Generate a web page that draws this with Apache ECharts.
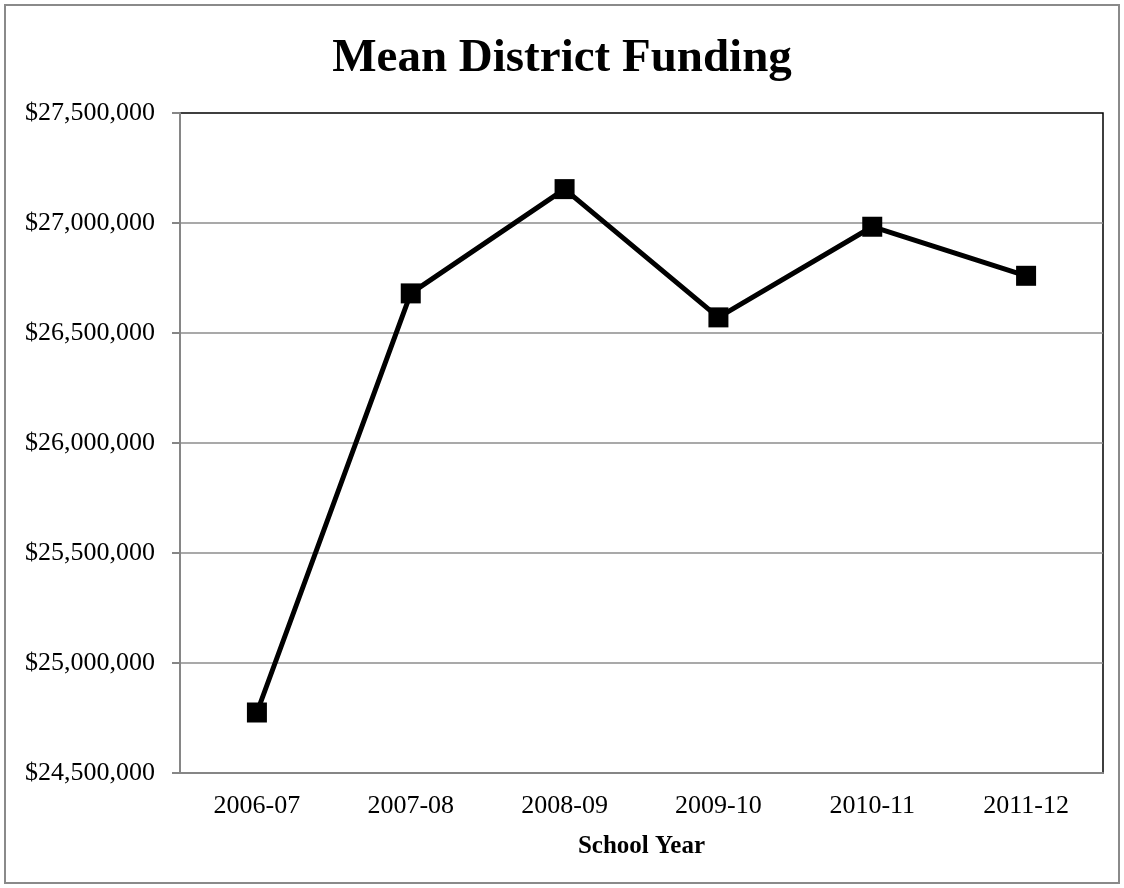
<!DOCTYPE html>
<html><head><meta charset="utf-8">
<script src="https://cdn.jsdelivr.net/npm/echarts@6/dist/echarts.min.js"></script>
<style>html,body{margin:0;padding:0;background:#fff}#c{width:1124px;height:888px}</style>
</head><body><div id="c"></div>
<script>
const categories = ["2006-07","2007-08","2008-09","2009-10","2010-11","2011-12"];
const funding = [24775000, 26680000, 27154000, 26571000, 26983000, 26760000];
const titleText = "Mean District Funding";
const xAxisName = "School Year";

const chart = echarts.init(document.getElementById('c'));
const serif = "'Liberation Serif', 'Times New Roman', serif";
chart.setOption({
  backgroundColor: '#fff',
  animation: false,
  title: {text: titleText, left: 'center', top: 30,
    textStyle: {fontFamily: serif, fontSize: 47, fontWeight: 'bold', color: '#000'}},
  graphic: [{type: 'rect', shape: {x: 5, y: 5, width: 1114, height: 878},
    style: {fill: 'none', stroke: '#8a8a8a', lineWidth: 2}, silent: true}],
  grid: {left: 180, right: 21, top: 113, bottom: 115, show: true, borderColor: '#000', borderWidth: 1.5, containLabel: false},
  xAxis: {type: 'category', data: categories, boundaryGap: true,
    name: xAxisName, nameLocation: 'middle', nameGap: 61,
    nameTextStyle: {fontFamily: serif, fontSize: 25, fontWeight: 'bold', color: '#000'},
    axisLine: {lineStyle: {color: '#868686', width: 2}},
    axisTick: {show: false},
    axisLabel: {fontFamily: serif, fontSize: 26, color: '#000', margin: 20}},
  yAxis: {type: 'value', min: 24500000, max: 27500000, interval: 500000,
    axisLine: {show: true, lineStyle: {color: '#868686', width: 2}},
    axisTick: {show: true, length: 8, lineStyle: {color: '#868686', width: 2}},
    splitLine: {showMaxLine: false, lineStyle: {color: '#8c8c8c', width: 1.5}},
    axisLabel: {fontFamily: serif, fontSize: 26, color: '#000', margin: 25,
      formatter: v => '$' + v.toLocaleString('en-US')}},
  series: [{type: 'line', data: funding, symbol: 'rect', symbolSize: 20,
    lineStyle: {color: '#000', width: 5}, itemStyle: {color: '#000'}}]
});
</script></body></html>
